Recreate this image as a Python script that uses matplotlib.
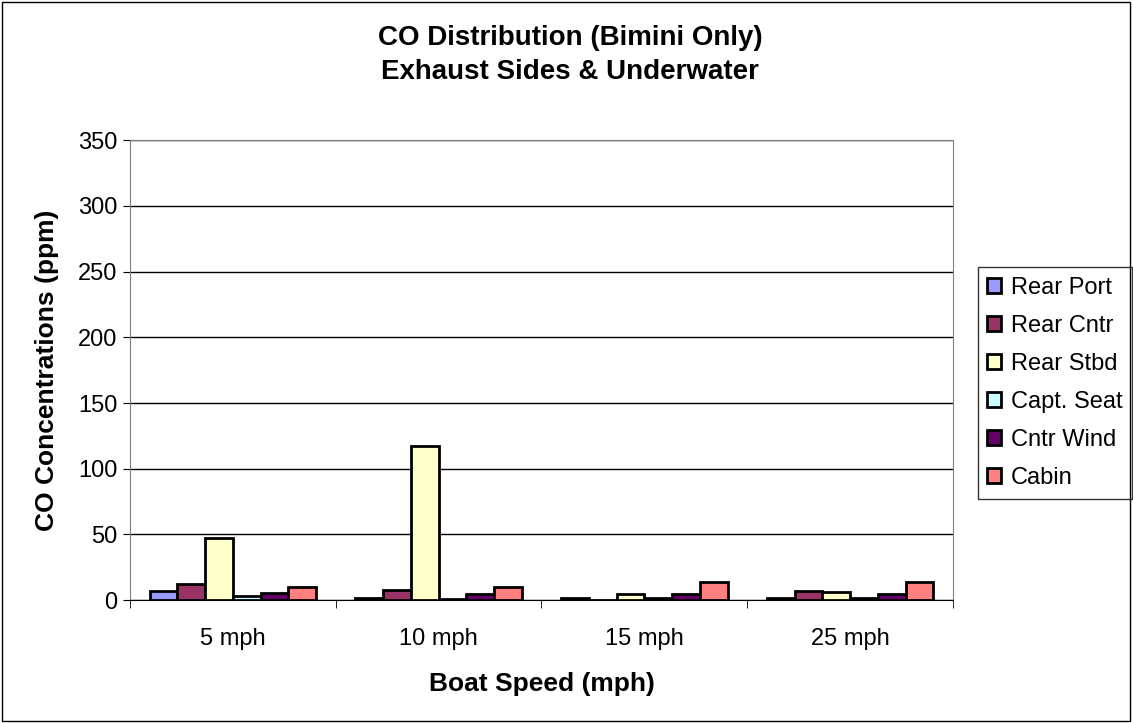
import matplotlib.pyplot as plt
import numpy as np
from matplotlib.patches import Rectangle

plt.rcParams['font.family'] = ['Liberation Sans', 'DejaVu Sans']

# Data
speeds = ['5 mph', '10 mph', '15 mph', '25 mph']
series = ['Rear Port', 'Rear Cntr', 'Rear Stbd', 'Capt. Seat', 'Cntr Wind', 'Cabin']
rear_port = [7, 1.3, 1.5, 1.5]
rear_cntr = [12.4, 8, 0, 7]
rear_stbd = [47.4, 117, 4.3, 5.8]
capt_seat = [3, 1.2, 1.5, 1.5]
cntr_wind = [5.6, 4.3, 4.3, 4.3]
cabin = [10, 10, 14, 14]
colors = ['#9999FF', '#993366', '#FFFFCC', '#CCFFFF', '#660066', '#FF8080']

values = [rear_port, rear_cntr, rear_stbd, capt_seat, cntr_wind, cabin]

fig = plt.figure(figsize=(11.33, 7.23), dpi=100)
ax = fig.add_axes([0.1147, 0.170, 0.7264, 0.636])

# Figure border
fig.patches.append(Rectangle((0.002, 0.003), 0.995, 0.994, transform=fig.transFigure,
                             fill=False, edgecolor='black', linewidth=1))

x = np.arange(len(speeds))
width = 0.135
for i, (name, vals) in enumerate(zip(series, values)):
    offset = (i - 2.5) * width
    ax.bar(x + offset, vals, width, color=colors[i], edgecolor='black',
           linewidth=2, label=name, zorder=3)

ax.set_xlim(-0.5, len(speeds) - 0.5)
ax.set_ylim(0, 350)
ax.set_yticks(range(0, 351, 50))
ax.yaxis.grid(True, color='black', linewidth=1, zorder=0)
ax.set_xticks(x)
ax.set_xticklabels(speeds, fontsize=17)
ax.set_xticks(np.arange(-0.5, len(speeds)), minor=True)
ax.tick_params(axis='x', which='major', length=0, pad=20)
ax.tick_params(axis='x', which='minor', length=6, direction='out', color='black')
ax.tick_params(axis='y', labelsize=17, length=5, direction='out', pad=4)

for side in ['top', 'right']:
    ax.spines[side].set_color('#808080')
ax.spines['left'].set_color('#808080')
ax.spines['bottom'].set_color('black')

ax.set_xlabel('Boat Speed (mph)', fontsize=19, fontweight='bold', labelpad=16)
ax.set_ylabel('CO Concentrations (ppm)', fontsize=19, fontweight='bold', labelpad=14)

fig.text(0.503, 0.924, 'CO Distribution (Bimini Only)\nExhaust Sides & Underwater',
         ha='center', va='center', fontsize=20, fontweight='bold', linespacing=1.38)

leg = ax.legend(loc='center left', bbox_to_anchor=(1.03, 0.472), fontsize=17,
                frameon=True, fancybox=False, edgecolor='black', handlelength=0.6,
                handleheight=0.6, handletextpad=0.4, labelspacing=0.68,
                borderpad=0.4, borderaxespad=0)
leg.get_frame().set_linewidth(1)

fig.savefig('out.png', dpi=100)
